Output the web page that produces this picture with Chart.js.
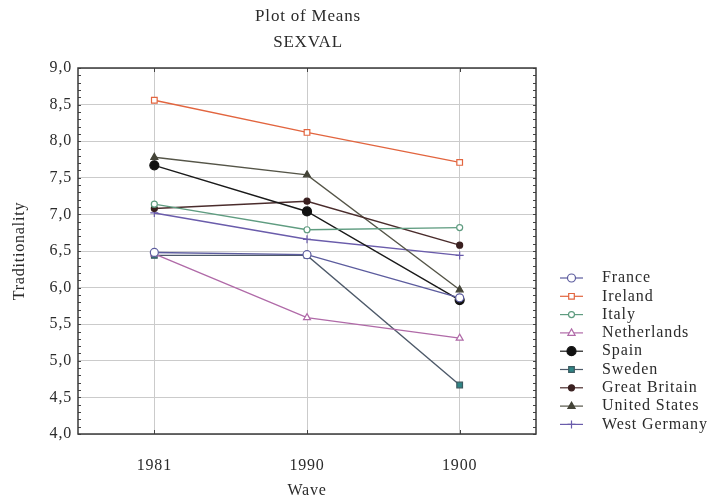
<!DOCTYPE html>
<html><head><meta charset="utf-8">
<script src="https://cdn.jsdelivr.net/npm/chart.js@4.4.1/dist/chart.umd.min.js"></script>
<style>html,body{margin:0;padding:0;background:#fff}#wrap{width:708px;height:504px}</style>
</head><body><div id="wrap"><canvas id="c" width="708" height="504"></canvas></div>
<script>
const waves = ['1981', '1990', '1900'];
const france = [6.48, 6.45, 5.86];
const ireland = [8.56, 8.12, 7.71];
const italy = [7.14, 6.79, 6.82];
const netherlands = [6.46, 5.59, 5.31];
const spain = [7.67, 7.04, 5.83];
const sweden = [6.44, 6.44, 4.67];
const greatBritain = [7.08, 7.18, 6.58];
const unitedStates = [7.78, 7.54, 5.97];
const westGermany = [7.02, 6.66, 6.44];
const seriesNames = ['France','Ireland','Italy','Netherlands','Spain','Sweden','Great Britain','United States','West Germany'];
const titleLines = ['Plot of Means', 'SEXVAL'];
const yMin = 4, yMax = 9, yStep = 0.5;

const FONT = '"Liberation Serif", "DejaVu Serif", serif';
const TXT = '#2b2b2b';
const SPACING = '0.8px';

function ds(label, data, line, pStyle, pBg, pBorder, r) {
  return {label, data, borderColor: line, borderWidth: 1.4, pointStyle: pStyle,
    pointBackgroundColor: pBg, pointBorderColor: pBorder, pointRadius: r, pointBorderWidth: 1.2,
    pointHoverRadius: r, tension: 0, fill: false};
}
const datasets = [
  ds(seriesNames[0], france, '#5c5c9e', 'circle', '#ffffff', '#5c5c9e', 4),
  ds(seriesNames[1], ireland, '#e2653f', 'rect', '#ffffff', '#e2653f', 4),
  ds(seriesNames[2], italy, '#5f9c80', 'circle', '#ffffff', '#5f9c80', 3),
  ds(seriesNames[3], netherlands, '#b06aa8', 'triangle', '#ffffff', '#b06aa8', 4),
  ds(seriesNames[4], spain, '#1a1a1a', 'circle', '#111111', '#111111', 4.5),
  ds(seriesNames[5], sweden, '#4e5a6a', 'rect', '#2f8585', '#3c5a60', 4),
  ds(seriesNames[6], greatBritain, '#4a2c2c', 'circle', '#3a2020', '#3a2020', 3),
  ds(seriesNames[7], unitedStates, '#555548', 'triangle', '#444438', '#444438', 4),
  ds(seriesNames[8], westGermany, '#6a5cab', 'cross', '#6a5cab', '#6a5cab', 4),
];

const spacingPlugin = {
  id: 'spacing',
  beforeInit(chart) { chart.ctx.letterSpacing = SPACING; },
  beforeUpdate(chart) { chart.ctx.letterSpacing = SPACING; },
  beforeLayout(chart) { chart.ctx.letterSpacing = SPACING; },
  beforeDraw(chart) { chart.ctx.letterSpacing = SPACING; }
};

const framePlugin = {
  id: 'frame',
  afterDraw(chart) {
    const {ctx, chartArea: a, scales} = chart;
    const y = scales.y, x = scales.x;
    ctx.save();
    ctx.strokeStyle = '#444';
    ctx.lineWidth = 1;
    for (let v = yMin; v <= yMax + 1e-9; v += 0.1) {
      const py = Math.round(y.getPixelForValue(v)) + 0.5;
      ctx.beginPath();
      ctx.moveTo(a.left, py); ctx.lineTo(a.left + 3, py);
      ctx.moveTo(a.right, py); ctx.lineTo(a.right - 3, py);
      ctx.stroke();
    }
    for (let i = 0; i < waves.length; i++) {
      const px = Math.round(x.getPixelForValue(i)) + 0.5;
      ctx.beginPath();
      ctx.moveTo(px, a.bottom); ctx.lineTo(px, a.bottom - 4);
      ctx.moveTo(px, a.top); ctx.lineTo(px, a.top + 4);
      ctx.stroke();
    }
    ctx.strokeStyle = '#3a3a3a';
    ctx.lineWidth = 1.5;
    ctx.strokeRect(a.left, a.top, a.right - a.left, a.bottom - a.top);
    ctx.fillStyle = TXT;
    ctx.font = '17px ' + FONT;
    ctx.textAlign = 'center';
    ctx.textBaseline = 'middle';
    const cx = (a.left + a.right) / 2 + 1;
    ctx.fillText(titleLines[0], cx, 17);
    ctx.fillText(titleLines[1], cx, 43);
    ctx.restore();
  }
};

function drawMarker(ctx, d, x, y) {
  const r = d.pointRadius;
  ctx.fillStyle = d.pointBackgroundColor;
  ctx.strokeStyle = d.pointBorderColor;
  ctx.lineWidth = d.pointBorderWidth;
  ctx.beginPath();
  if (d.pointStyle === 'circle') {
    ctx.arc(x, y, r, 0, Math.PI * 2);
    ctx.fill(); ctx.stroke();
  } else if (d.pointStyle === 'rect') {
    const s = r * 1.4;
    ctx.rect(x - s/2, y - s/2, s, s);
    ctx.fill(); ctx.stroke();
  } else if (d.pointStyle === 'triangle') {
    ctx.moveTo(x, y - r); ctx.lineTo(x + r*0.9, y + r*0.6); ctx.lineTo(x - r*0.9, y + r*0.6); ctx.closePath();
    ctx.fill(); ctx.stroke();
  } else if (d.pointStyle === 'cross') {
    ctx.moveTo(x - r, y); ctx.lineTo(x + r, y); ctx.moveTo(x, y - r); ctx.lineTo(x, y + r);
    ctx.stroke();
  }
}

const legendPlugin = {
  id: 'sideLegend',
  afterDraw(chart) {
    const ctx = chart.ctx;
    ctx.save();
    ctx.font = '16px ' + FONT;
    ctx.letterSpacing = '0.9px';
    ctx.textBaseline = 'middle';
    ctx.textAlign = 'left';
    chart.data.datasets.forEach((d, i) => {
      const yy = 278 + i * 18.3;
      ctx.strokeStyle = d.borderColor;
      ctx.lineWidth = 1.2;
      ctx.beginPath(); ctx.moveTo(560, yy); ctx.lineTo(583, yy); ctx.stroke();
      drawMarker(ctx, d, 571.5, yy);
      ctx.fillStyle = TXT;
      ctx.fillText(d.label, 602, yy);
    });
    ctx.restore();
  }
};

new Chart(document.getElementById('c'), {
  type: 'line',
  data: {labels: waves, datasets},
  plugins: [spacingPlugin, framePlugin, legendPlugin],
  options: {
    responsive: false, animation: false, devicePixelRatio: 1,
    layout: {padding: {left: 0, right: 172, top: 68, bottom: 0}},
    plugins: {
      legend: {display: false},
      tooltip: {enabled: false},
      title: {display: false}
    },
    scales: {
      x: {
        offset: true,
        grid: {offset: false, color: '#cbcbcb', drawTicks: false},
        border: {display: false},
        ticks: {color: TXT, font: {family: FONT, size: 16}, padding: 22},
        title: {display: true, text: 'Wave', color: TXT, font: {family: FONT, size: 16}, padding: {top: 0, bottom: 4}},
        afterFit(s) { s.height = 70; }
      },
      y: {
        min: yMin, max: yMax,
        grid: {color: '#cbcbcb', drawTicks: false},
        border: {display: false},
        ticks: {stepSize: yStep, color: TXT, font: {family: FONT, size: 16}, padding: 6,
          callback: v => Number(v).toFixed(1).replace('.', ',')},
        title: {display: true, text: 'Traditionality', color: TXT, font: {family: FONT, size: 16}, padding: {top: 10, bottom: 0}},
        afterFit(s) { s.width = 78; }
      }
    }
  }
});
</script>
</body></html>
